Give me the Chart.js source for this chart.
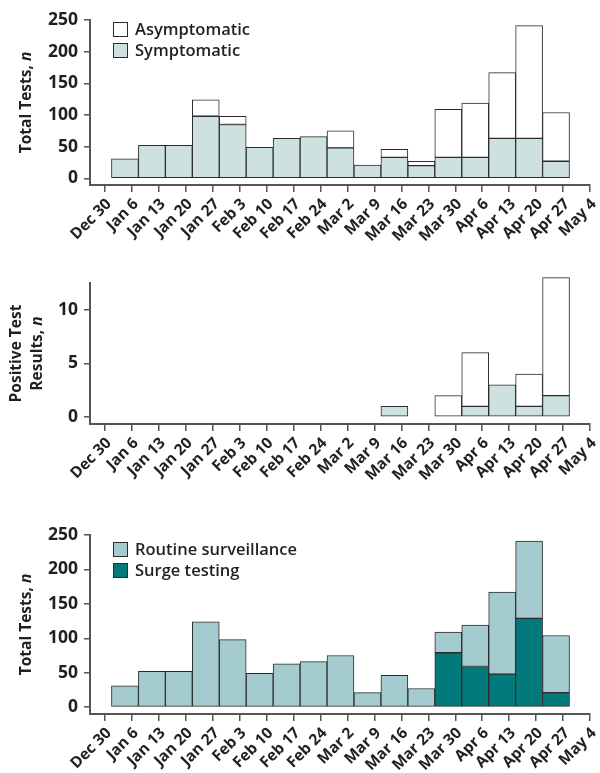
<!DOCTYPE html>
<html>
<head>
<meta charset="utf-8">
<script src="https://cdn.jsdelivr.net/npm/chart.js@4.4.0/dist/chart.umd.min.js"></script>
<style>
body { margin: 0; background: #fff; width: 600px; height: 773px; position: relative; overflow: hidden; }
canvas { position: absolute; left: 0; }
</style>
</head>
<body>
<canvas id="typeChart" width="600" height="265" style="top:0"></canvas>
<canvas id="positiveChart" width="600" height="250" style="top:265px"></canvas>
<canvas id="reasonChart" width="600" height="258" style="top:515px"></canvas>
<script>
// week tick labels (x axis)
const weekLabels = ['Dec 30', 'Jan 6', 'Jan 13', 'Jan 20', 'Jan 27', 'Feb 3', 'Feb 10', 'Feb 17', 'Feb 24',
    'Mar 2', 'Mar 9', 'Mar 16', 'Mar 23', 'Mar 30', 'Apr 6', 'Apr 13', 'Apr 20', 'Apr 27', 'May 4'];

// one value per weekly bar (17 bars), null = no bar
const symptomaticTests = [31, 52, 52, 98, 85, 49, 63, 66, 48, 21, 33, 20, 33, 33, 63, 63, 27];
const asymptomaticTests = [null, null, null, 26, 13, null, null, null, 27, null, 13, 7, 76, 86, 104, 178, 77];

const symptomaticPositive = [null, null, null, null, null, null, null, null, null, null, 1, null, null, 1, 3, 1, 2];
const asymptomaticPositive = [null, null, null, null, null, null, null, null, null, null, null, null, 2, 5, null, 3, 11];

const surgeTests = [null, null, null, null, null, null, null, null, null, null, null, null, 79, 59, 48, 129, 21];
const routineTests = [31, 52, 52, 124, 98, 49, 63, 66, 75, 21, 46, 27, 30, 60, 119, 112, 83];

const testTicks = [0, 50, 100, 150, 200, 250];
const positiveTicks = [0, 5, 10];

const textColor = '#231f20';
const axisColor = '#555';
const barBorder = '#2b2b2b';
const barShift = 0.74; // bars sit a little after the week tick

function toPoints(values) {
    return values.map((v, i) => ({ x: i + barShift, y: v }));
}

// draws rotated y axis title (with italic n) and the box legend
const panelText = {
    id: 'panelText',
    afterDraw(chart, args, opts) {
        const ctx = chart.ctx;
        const area = chart.chartArea;
        ctx.save();
        ctx.fillStyle = textColor;
        ctx.textBaseline = 'middle';
        ctx.textAlign = 'left';
        opts.title.forEach((line, k) => {
            ctx.save();
            ctx.translate(opts.titleX[k], (area.top + area.bottom) / 2);
            ctx.rotate(-Math.PI / 2);
            let total = 0;
            line.forEach(seg => { ctx.font = seg.font; total += ctx.measureText(seg.text).width; });
            let cx = -total / 2;
            line.forEach(seg => {
                ctx.font = seg.font;
                ctx.fillText(seg.text, cx, 0);
                cx += ctx.measureText(seg.text).width;
            });
            ctx.restore();
        });
        if (opts.legend) {
            const items = chart.data.datasets.slice().reverse();
            items.forEach((ds, k) => {
                const bx = area.left + opts.legendX;
                const by = area.top + opts.legendY + k * 21;
                ctx.fillStyle = ds.backgroundColor;
                ctx.fillRect(bx, by, 15, 15);
                ctx.strokeStyle = barBorder;
                ctx.lineWidth = 1;
                ctx.strokeRect(bx + 0.5, by + 0.5, 14, 14);
                ctx.fillStyle = textColor;
                ctx.font = '600 16.5px "Open Sans"';
                ctx.fillText(ds.label, bx + 22, by + 8);
            });
        }
        ctx.restore();
    }
};

function titleLine(text, italic) {
    const segs = [{ text: text, font: '700 15.5px "Open Sans"' }];
    if (italic) segs.push({ text: italic, font: 'italic 700 15.5px "Open Sans"' });
    return segs;
}

function makeChart(id, datasets, yMin, yMax, yTicks, padTop, xHeight, textOpts) {
    const ctx = document.getElementById(id).getContext('2d');
    return new Chart(ctx, {
        type: 'bar',
        data: { datasets: datasets },
        options: {
            responsive: false,
            animation: false,
            layout: { padding: { top: padTop, right: 10, left: 0, bottom: 0 } },
            datasets: { bar: { barPercentage: 1, categoryPercentage: 1, borderWidth: 1, borderColor: barBorder, borderSkipped: false } },
            plugins: {
                legend: { display: false },
                tooltip: { enabled: false },
                panelText: textOpts
            },
            scales: {
                x: {
                    type: 'linear',
                    stacked: true,
                    offset: false,
                    min: -0.557,
                    max: 18,
                    afterBuildTicks: (scale) => { scale.ticks = weekLabels.map((l, i) => ({ value: i })); },
                    afterFit: (scale) => {
                        scale.height = xHeight;
                        scale.paddingLeft = 0;
                        scale.paddingRight = 0;
                    },
                    ticks: {
                        autoSkip: false,
                        minRotation: 45,
                        maxRotation: 45,
                        padding: 3,
                        labelOffset: 4,
                        color: textColor,
                        font: { family: 'Open Sans', size: 15.5, weight: '700' },
                        callback: (v) => weekLabels[v]
                    },
                    grid: { offset: false, drawOnChartArea: false, drawTicks: true, tickLength: 7, color: axisColor, lineWidth: 1.5 },
                    border: { display: true, color: axisColor, width: 2 }
                },
                y: {
                    stacked: true,
                    min: yMin,
                    max: yMax,
                    afterBuildTicks: (scale) => { scale.ticks = yTicks.map(v => ({ value: v })); },
                    afterFit: (scale) => { scale.width = 90; },
                    ticks: {
                        padding: 6,
                        color: textColor,
                        font: { family: 'Open Sans', size: 17.5, weight: '700' }
                    },
                    grid: { drawOnChartArea: false, drawTicks: true, tickLength: 6, color: axisColor, lineWidth: 1.5 },
                    border: { display: true, color: axisColor, width: 2 }
                }
            }
        },
        plugins: [panelText]
    });
}

const typeChart = makeChart('typeChart', [
    { label: 'Symptomatic', data: toPoints(symptomaticTests), backgroundColor: '#cde1e1' },
    { label: 'Asymptomatic', data: toPoints(asymptomaticTests), backgroundColor: '#ffffff' }
], -10.5, 250, testTicks, 20, 80, {
    title: [titleLine('Total Tests, ', 'n')], titleX: [27],
    legend: true, legendX: 23, legendY: 2
});

const positiveChart = makeChart('positiveChart', [
    { label: 'Symptomatic', data: toPoints(symptomaticPositive), backgroundColor: '#cde1e1' },
    { label: 'Asymptomatic', data: toPoints(asymptomaticPositive), backgroundColor: '#ffffff', clip: false }
], -0.65, 12.5, positiveTicks, 18, 91, {
    title: [titleLine('Positive Test'), titleLine('Results, ', 'n')], titleX: [17, 38],
    legend: false
});

const reasonChart = makeChart('reasonChart', [
    { label: 'Surge testing', data: toPoints(surgeTests), backgroundColor: '#007a7b' },
    { label: 'Routine surveillance', data: toPoints(routineTests), backgroundColor: '#a4cbcf' }
], -10, 250, testTicks, 20, 59, {
    title: [titleLine('Total Tests, ', 'n')], titleX: [27],
    legend: true, legendX: 23, legendY: 7
});
</script>
</body>
</html>
